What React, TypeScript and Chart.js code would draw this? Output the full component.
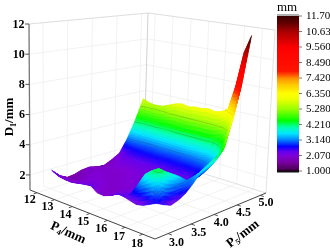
import React, { useEffect, useRef } from "react";
import { Chart, registerables } from "chart.js";

Chart.register(...registerables);

// P4 (mm) for each surface column, P5 (mm) for each surface row
const P4_VALUES = [12.24, 12.61, 12.98, 13.35, 13.72, 14.09, 14.45, 14.82, 15.19, 15.56, 15.93, 16.3, 16.67, 17.04, 17.41, 17.77, 18.14];
const P5_VALUES = [2.93, 3.09, 3.25, 3.41, 3.56, 3.72, 3.88, 4.04, 4.2, 4.36, 4.52, 4.68, 4.84];

// D1 (mm): one row per P5 value
const D1_R00 = [2.4, 2.17, 2.1, 2.07, 2.16, 2.25, 2.3, 2.0, 1.97, 2.13, 2.4, 2.35, 2.25, 2.15, 2.25, 2.45, 2.65];
const D1_R01 = [1.9, 1.85, 1.85, 1.95, 2.05, 2.15, 2.1, 2.0, 2.0, 2.1, 2.25, 2.3, 3.1, 3.85, 4.2, 4.45, 2.4];
const D1_R02 = [1.6, 1.7, 1.85, 2.0, 2.1, 2.1, 2.0, 1.95, 2.0, 2.1, 2.2, 2.2, 2.8, 3.5, 3.85, 4.1, 2.2];
const D1_R03 = [1.65, 1.8, 1.95, 2.05, 2.05, 2.0, 1.95, 2.0, 2.05, 2.1, 2.15, 2.1, 2.4, 3.0, 3.4, 3.8, 2.35];
const D1_R04 = [1.8, 1.9, 2.0, 2.05, 2.0, 1.95, 2.0, 2.05, 2.1, 2.1, 2.1, 2.05, 2.2, 2.6, 3.0, 3.5, 2.6];
const D1_R05 = [1.85, 1.95, 2.0, 2.0, 1.95, 2.0, 2.05, 2.1, 2.1, 2.05, 2.05, 2.1, 2.15, 2.4, 2.7, 3.1, 3.05];
const D1_R06 = [1.7, 1.85, 2.0, 2.0, 2.0, 2.05, 2.1, 2.1, 2.05, 2.05, 2.1, 2.1, 2.15, 2.35, 2.65, 3.2, 3.6];
const D1_R07 = [1.65, 1.9, 2.1, 2.15, 2.15, 2.2, 2.2, 2.15, 2.15, 2.2, 2.2, 2.2, 2.2, 2.4, 2.7, 3.3, 3.95];
const D1_R08 = [1.9, 2.1, 2.3, 2.35, 2.35, 2.35, 2.35, 2.35, 2.35, 2.4, 2.4, 2.4, 2.4, 2.6, 2.9, 3.5, 4.25];
const D1_R09 = [2.2, 2.45, 2.6, 2.65, 2.65, 2.65, 2.65, 2.65, 2.65, 2.65, 2.65, 2.7, 2.7, 2.9, 3.2, 3.8, 4.6];
const D1_R10 = [3.1, 3.15, 3.1, 3.05, 3.05, 3.1, 3.1, 3.05, 3.05, 3.1, 3.1, 3.15, 3.2, 3.4, 3.8, 4.5, 6.6];
const D1_R11 = [4.3, 4.2, 4.15, 4.15, 4.2, 4.2, 4.15, 4.1, 4.1, 4.15, 4.1, 4.15, 4.2, 4.4, 4.9, 6.3, 8.6];
const D1_R12 = [5.8, 5.6, 5.55, 5.6, 5.8, 6.0, 6.1, 6.0, 6.1, 6.1, 6.2, 6.1, 6.2, 6.5, 8.2, 10.5, 11.7];
const D1_ROWS = [D1_R00, D1_R01, D1_R02, D1_R03, D1_R04, D1_R05, D1_R06, D1_R07, D1_R08, D1_R09, D1_R10, D1_R11, D1_R12];

const Z_TICKS = [2, 4, 6, 8, 10, 12];
const P4_TICKS = [12, 13, 14, 15, 16, 17, 18];
const P5_TICKS = ["3.0", "3.5", "4.0", "4.5", "5.0"];
const BAR_TICKS = ["11.70", "10.63", "9.560", "8.490", "7.420", "6.350", "5.280", "4.210", "3.140", "2.070", "1.000"];
const CONTOURS = [3.14, 4.21, 5.28, 6.35, 7.42, 8.49, 9.56, 10.63];

const P4_MIN = 11.6, P4_MAX = 18.7, P5_MIN = 2.715, P5_MAX = 5.127, Z_MIN = 1, Z_MAX = 12;

// colour scale
const CMAP: [number, number, number, number][] = [
  [1.0, 20, 0, 20], [1.15, 80, 0, 90], [1.6, 120, 0, 160], [2.07, 128, 0, 215], [2.35, 100, 0, 235], [2.7, 5, 0, 255],
  [3.14, 0, 125, 255], [3.6, 0, 230, 255], [4.0, 0, 255, 180], [4.5, 0, 255, 0], [5.28, 150, 255, 0],
  [6.0, 240, 255, 0], [6.35, 255, 255, 0], [7.0, 255, 200, 0], [7.42, 255, 140, 0], [7.9, 255, 20, 0],
  [9.5, 255, 0, 0], [10.63, 170, 0, 0], [11.3, 90, 0, 0], [11.7, 60, 0, 0],
];
function color(z: number) {
  let k = 0;
  while (k < CMAP.length - 2 && z > CMAP[k + 1][0]) k++;
  const a = CMAP[k], b = CMAP[k + 1];
  const t = Math.max(0, Math.min(1, (z - a[0]) / (b[0] - a[0])));
  return `rgb(${Math.round(a[1] + (b[1] - a[1]) * t)},${Math.round(a[2] + (b[2] - a[2]) * t)},${Math.round(a[3] + (b[3] - a[3]) * t)})`;
}

// view of the 3D box: where its eight corners land in the picture
const BOX = {
  f00: [30, 190], f10: [155, 239], f11: [266, 193], f01: [144, 155],
  t00: [29, 24], t10: [166, 50], t11: [275, 30], t01: [148, 13],
};
function corner(u: number, v: number, a: number[], b: number[], c: number[], d: number[]) {
  return [0, 1].map((k) => (1 - u) * (1 - v) * a[k] + u * (1 - v) * b[k] + u * v * c[k] + (1 - u) * v * d[k]);
}
function proj(u: number, v: number, w: number) {
  const f = corner(u, v, BOX.f00, BOX.f10, BOX.f11, BOX.f01);
  const t = corner(u, v, BOX.t00, BOX.t10, BOX.t11, BOX.t01);
  return { x: f[0] + (t[0] - f[0]) * w, y: f[1] + (t[1] - f[1]) * w };
}
const uOf = (p: number) => (p - P4_MIN) / (P4_MAX - P4_MIN);
const vOf = (p: number) => (p - P5_MIN) / (P5_MAX - P5_MIN);
const wOf = (z: number) => (z - Z_MIN) / (Z_MAX - Z_MIN);

const surfacePlugin = {
  id: "surface3d",
  beforeDatasetsDraw(chart: any) {
    const ctx: CanvasRenderingContext2D = chart.ctx;
    const sx = chart.scales.x, sy = chart.scales.y;
    const px = (p: { x: number; y: number }) => [sx.getPixelForValue(p.x), sy.getPixelForValue(p.y)];
    const seg = (a: { x: number; y: number }, b: { x: number; y: number }, col: string, lw: number) => {
      const A = px(a), B = px(b);
      ctx.strokeStyle = col; ctx.lineWidth = lw;
      ctx.beginPath(); ctx.moveTo(A[0], A[1]); ctx.lineTo(B[0], B[1]); ctx.stroke();
    };
    ctx.save();
    ctx.fillStyle = "#fff";
    ctx.fillRect(0, 0, chart.width, chart.height);
    // walls and floor
    const GRID = "#ececec";
    const p4t = P4_TICKS.map(uOf), p5t = P5_TICKS.map((s) => vOf(parseFloat(s)));
    for (const z of Z_TICKS) {
      const w = wOf(z);
      if (z < 12) {
        seg(proj(0, 0, w), proj(0, 1, w), GRID, 0.7);
        seg(proj(0, 1, w), proj(1, 1, w), GRID, 0.7);
      }
    }
    for (const v of p5t) {
      seg(proj(0, v, 0), proj(0, v, 1), GRID, 0.7);
      seg(proj(0, v, 0), proj(1, v, 0), GRID, 0.7);
    }
    for (const u of p4t) {
      seg(proj(u, 1, 0), proj(u, 1, 1), GRID, 0.7);
      seg(proj(u, 0, 0), proj(u, 1, 0), GRID, 0.7);
    }
    seg(proj(0, 0, 1), proj(0, 1, 1), "#d4d4d4", 0.8);
    seg(proj(0, 1, 1), proj(1, 1, 1), "#d4d4d4", 0.8);
    seg(proj(1, 1, 0), proj(1, 1, 1), "#dcdcdc", 0.8);
    seg(proj(0, 1, 0), proj(0, 1, 1), "#cccccc", 0.9);
    seg(proj(0, 1, 0), proj(1, 1, 0), "#dcdcdc", 0.9);

    // surface, far to near
    const N = 8;
    const rows = chart.data.datasets;
    for (let r = rows.length - 2; r >= 0; r--) {
      const front = rows[r].data, back = rows[r + 1].data;
      for (let i = 0; i < front.length - 1; i++) {
        const P = (a: number, b: number) => {
          const mix = (k: string) =>
            (1 - a) * (1 - b) * front[i][k] + a * (1 - b) * front[i + 1][k] + a * b * back[i + 1][k] + (1 - a) * b * back[i][k];
          return { x: mix("x"), y: mix("y"), z: mix("z") };
        };
        for (let m = N - 1; m >= 0; m--) {
          for (let n = 0; n < N; n++) {
            const c = [P(n / N, m / N), P((n + 1) / N, m / N), P((n + 1) / N, (m + 1) / N), P(n / N, (m + 1) / N)];
            const pts = c.map(px);
            const col = color((c[0].z + c[1].z + c[2].z + c[3].z) / 4);
            ctx.fillStyle = col; ctx.strokeStyle = col; ctx.lineWidth = 0.5;
            ctx.beginPath();
            pts.forEach((q, k) => (k ? ctx.lineTo(q[0], q[1]) : ctx.moveTo(q[0], q[1])));
            ctx.closePath(); ctx.fill(); ctx.stroke();
            for (const level of CONTOURS) {
              const cross: number[][] = [];
              for (let k = 0; k < 4; k++) {
                const a = c[k], b = c[(k + 1) % 4];
                if ((a.z - level) * (b.z - level) < 0) {
                  const t = (level - a.z) / (b.z - a.z);
                  cross.push([pts[k][0] + (pts[(k + 1) % 4][0] - pts[k][0]) * t, pts[k][1] + (pts[(k + 1) % 4][1] - pts[k][1]) * t]);
                }
              }
              if (cross.length === 2) {
                ctx.strokeStyle = "rgba(60,60,60,0.5)"; ctx.lineWidth = 0.7;
                ctx.beginPath(); ctx.moveTo(cross[0][0], cross[0][1]); ctx.lineTo(cross[1][0], cross[1][1]); ctx.stroke();
              }
            }
          }
        }
      }
    }

    // axes
    seg(proj(0, 0, 0), proj(0, 0, 1), "#777", 1.3);
    seg(proj(0, 0, 0), proj(1, 0, 0), "#444", 1);
    seg(proj(1, 0, 0), proj(1, 1, 0), "#444", 1);
    ctx.fillStyle = "#000";
    ctx.font = "bold 12px 'Liberation Serif'";
    ctx.textBaseline = "middle";
    ctx.textAlign = "right";
    for (const z of Z_TICKS) {
      const p = proj(0, 0, wOf(z));
      const A = px(p);
      ctx.strokeStyle = "#555"; ctx.lineWidth = 1;
      ctx.beginPath(); ctx.moveTo(A[0] - 4, A[1]); ctx.lineTo(A[0], A[1]); ctx.stroke();
      ctx.fillText(String(z), A[0] - 4.5, A[1] + 0.5);
    }
    ctx.textAlign = "center";
    for (const t of P4_TICKS) {
      const u = uOf(t);
      seg(proj(u, 0, 0), proj(u, -0.03, 0), "#444", 0.9);
      const L = px(proj(u, -0.075, -0.02));
      ctx.fillText(String(t), L[0] + 1 + 2 * u, L[1] + 1 + 2 * u);
    }
    for (const t of P5_TICKS) {
      const v = vOf(parseFloat(t));
      seg(proj(1, v, 0), proj(1.03, v, 0), "#444", 0.9);
      const L = px(proj(1.08, v, -0.02));
      ctx.fillText(t, L[0] - 1 - 3 * v, L[1] + 1.5);
    }
    const label = (parts: [string, boolean][], cx: number, cy: number, rot: number) => {
      ctx.save();
      ctx.translate(sx.getPixelForValue(cx), sy.getPixelForValue(cy));
      ctx.rotate(rot);
      ctx.textAlign = "left";
      const big = "bold 13px 'Liberation Serif'", small = "bold 8px 'Liberation Serif'";
      let w = 0;
      for (const [s, sub] of parts) { ctx.font = sub ? small : big; w += ctx.measureText(s).width; }
      let x = -w / 2;
      for (const [s, sub] of parts) {
        ctx.font = sub ? small : big;
        ctx.fillText(s, x, sub ? 3.5 : 0);
        x += ctx.measureText(s).width;
      }
      ctx.restore();
    };
    label([["D", false], ["1", true], ["/mm", false]], 10, 117, -Math.PI / 2);
    label([["P", false], ["4", true], ["/mm", false]], 68, 233, 0.42);
    label([["P", false], ["5", true], ["/mm", false]], 243, 234, -0.66);

    // colour bar
    const barY = (z: number) => 16 + ((11.7 - z) / 10.7) * 155;
    const bx = sx.getPixelForValue(277), bw = sx.getPixelForValue(299) - bx;
    ctx.fillStyle = "#b0b0b0";
    ctx.fillRect(bx, sy.getPixelForValue(14), bw, 2);
    for (let y = 16; y < 171; y += 0.5) {
      ctx.fillStyle = color(11.7 - ((y - 16) / 155) * 10.7);
      ctx.fillRect(bx, sy.getPixelForValue(y), bw, 1);
    }
    ctx.fillStyle = "#111";
    ctx.fillRect(bx, sy.getPixelForValue(171), bw, 1.5);
    ctx.font = "11px 'Liberation Serif'";
    ctx.textAlign = "left";
    for (const t of BAR_TICKS) {
      const y = sy.getPixelForValue(barY(parseFloat(t)));
      ctx.strokeStyle = "#555"; ctx.lineWidth = 0.8;
      ctx.beginPath(); ctx.moveTo(bx + bw, y); ctx.lineTo(bx + bw + 3, y); ctx.stroke();
      ctx.fillStyle = "#000";
      ctx.fillText(t, bx + bw + 7, y + 0.5);
    }
    ctx.font = "13px 'Liberation Serif'";
    ctx.textAlign = "center";
    ctx.fillText("mm", sx.getPixelForValue(287), sy.getPixelForValue(8));
    // soft, scanned look of the original
    ctx.filter = "blur(0.45px)";
    ctx.drawImage(chart.canvas, 0, 0);
    ctx.restore();
  },
};

export default function App() {
  const ref = useRef<HTMLCanvasElement>(null);
  useEffect(() => {
    if (!ref.current) return;
    const datasets = P5_VALUES.map((p5, r) => ({
      label: "P5=" + p5,
      showLine: false,
      pointRadius: 0,
      data: P4_VALUES.map((p4, i) => {
        const z = D1_ROWS[r][i];
        const p = proj(uOf(p4), vOf(p5), wOf(z));
        return { x: p.x, y: p.y, z };
      }),
    }));
    const chart = new Chart(ref.current, {
      type: "scatter",
      data: { datasets } as any,
      options: {
        animation: false,
        responsive: false,
        layout: { padding: 0 },
        plugins: { legend: { display: false }, title: { display: false }, tooltip: { enabled: false } },
        scales: {
          x: { type: "linear", display: false, min: 0, max: 330 },
          y: { type: "linear", display: false, min: 0, max: 251, reverse: true },
        },
      },
      plugins: [surfacePlugin],
    } as any);
    return () => chart.destroy();
  }, []);
  return (
    <div style={{ position: "fixed", left: 0, top: 0, width: 330, height: 251, background: "#fff" }}>
      <canvas ref={ref} width={330} height={251} style={{ display: "block" }} />
    </div>
  );
}
